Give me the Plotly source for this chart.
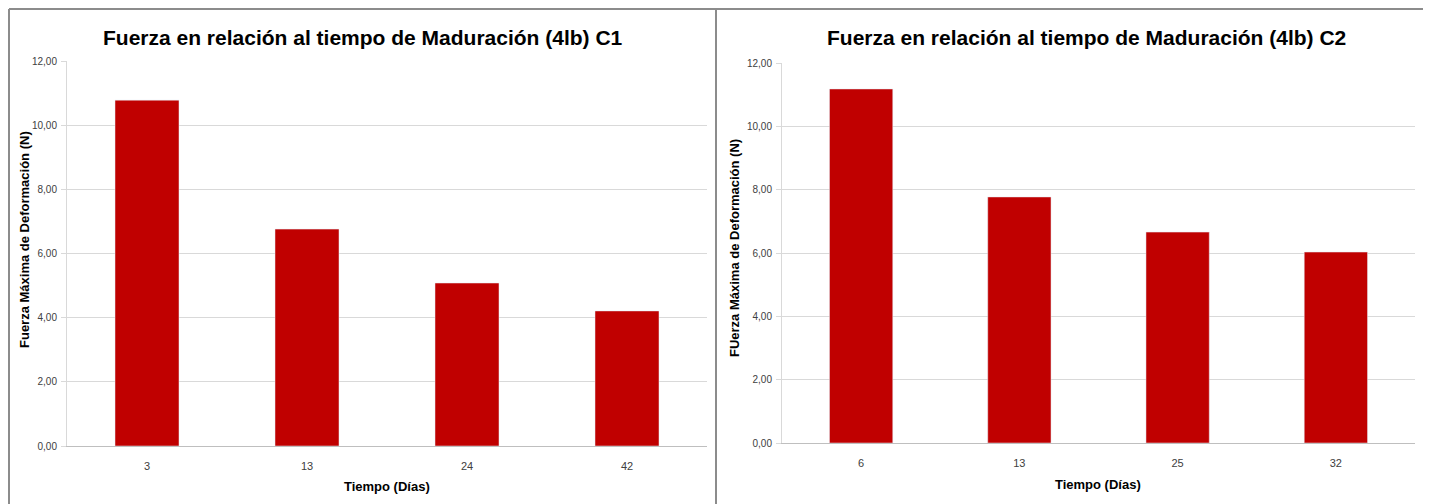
import plotly.graph_objects as go

# Data
dias_c1 = ["3", "13", "24", "42"]
fuerza_c1 = [10.78, 6.76, 5.08, 4.21]
dias_c2 = ["6", "13", "25", "32"]
fuerza_c2 = [11.18, 7.77, 6.66, 6.03]
y_ticks = [0, 2, 4, 6, 8, 10, 12]
titulo_c1 = "Fuerza en relación al tiempo de Maduración (4lb) C1"
titulo_c2 = "Fuerza en relación al tiempo de Maduración (4lb) C2"
ytitle_c1 = "Fuerza Máxima de Deformación (N)"
ytitle_c2 = "FUerza Máxima de Deformación (N)"
xtitle = "Tiempo (Días)"

W, H = 1431, 504
OFF = 8  # page body margin
BAR = "#C00000"
GRID = "#d9d9d9"
SANS = "Liberation Sans, Arial, sans-serif"


def px_x(p):
    return (p - OFF) / W


def px_y(p):
    return 1 - (p - OFF) / H


fig = go.Figure()
fig.add_trace(go.Bar(x=dias_c1, y=fuerza_c1, marker_color=BAR, xaxis="x", yaxis="y",
                     width=0.4, showlegend=False))
fig.add_trace(go.Bar(x=dias_c2, y=fuerza_c2, marker_color=BAR, xaxis="x2", yaxis="y2",
                     width=0.4, showlegend=False))

ax_common_x = dict(type="category", showgrid=False, showline=True, linecolor="#bfbfbf",
                   linewidth=1, ticks="", tickfont=dict(family=SANS, size=11, color="#404040"),
                   ticklabelstandoff=10, fixedrange=True, automargin=False)
ax_common_y = dict(range=[0, 12], tickvals=y_ticks, tickformat=".2f",
                   showgrid=True, gridcolor=GRID, gridwidth=1, showline=True, linecolor=GRID,
                   ticks="outside", ticklen=5, tickcolor=GRID, zeroline=False,
                   ticklabelstandoff=2,
                   tickfont=dict(family=SANS, size=10, color="#404040"), fixedrange=True,
                   automargin=False)

fig.update_layout(
    width=W, height=H,
    margin=dict(l=0, r=0, t=0, b=0, autoexpand=False),
    paper_bgcolor="white", plot_bgcolor="white",
    separators=",.",
    xaxis=dict(domain=[px_x(67), px_x(707)], anchor="y", **ax_common_x),
    yaxis=dict(domain=[px_y(446), px_y(61)], anchor="x", **ax_common_y),
    xaxis2=dict(domain=[px_x(782), px_x(1415)], anchor="y2", **ax_common_x),
    yaxis2=dict(domain=[px_y(443), px_y(63)], anchor="x2", **ax_common_y),
)

# Frames (open at the bottom, as in the reference)
frame = dict(color="#8c8c8c", width=2)
for x0, x1 in [(1 / W, px_x(716)), (px_x(716), px_x(1425))]:
    fig.add_shape(type="line", xref="paper", yref="paper", x0=x0, x1=x1,
                  y0=1 - 1 / H, y1=1 - 1 / H, line=frame)
    fig.add_shape(type="line", xref="paper", yref="paper", x0=x0, x1=x0,
                  y0=0, y1=1 - 1 / H, line=frame)
    fig.add_shape(type="line", xref="paper", yref="paper", x0=x1, x1=x1,
                  y0=0, y1=1 - 1 / H, line=frame)


def ann(text, x, y, size, angle=0):
    fig.add_annotation(text=f"<b>{text}</b>", xref="paper", yref="paper",
                       x=px_x(x), y=px_y(y), showarrow=False, textangle=angle,
                       xanchor="center", yanchor="middle",
                       font=dict(family=SANS, size=size, color="black"))


ann(titulo_c1, 363, 37, 21)
ann(titulo_c2, 1086, 37, 21)
ann(ytitle_c1, 25, 240, 13, angle=-90)
ann(ytitle_c2, 734, 248, 13, angle=-90)
ann(xtitle, 387, 486, 13)
ann(xtitle, 1098, 484, 13)

fig.write_html("out.html")
